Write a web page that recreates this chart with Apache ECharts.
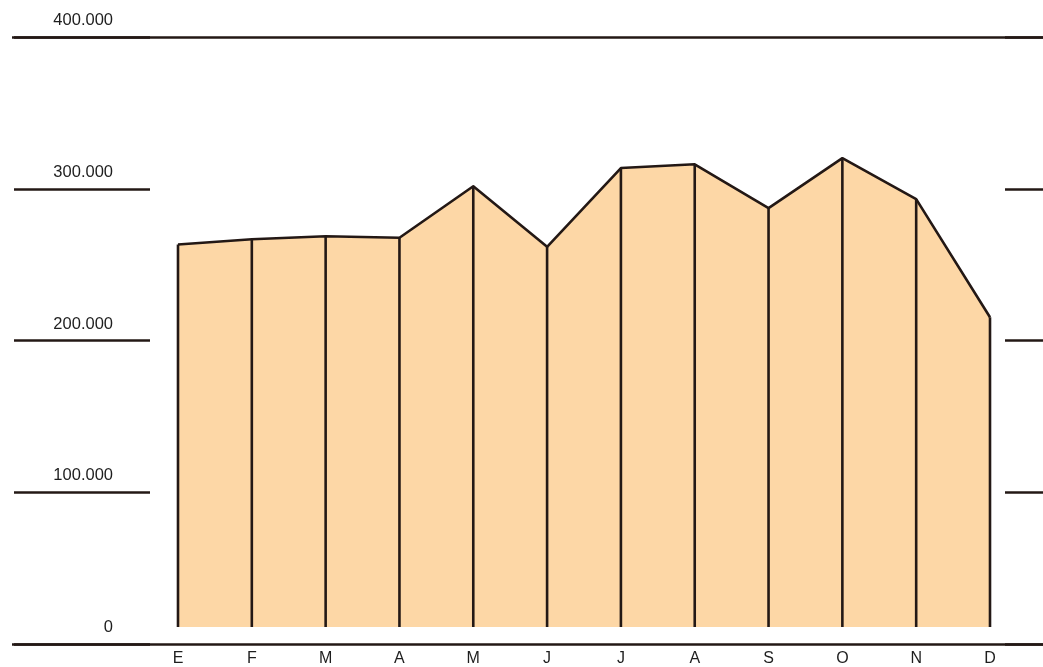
<!DOCTYPE html>
<html>
<head>
<meta charset="utf-8">
<script src="https://cdn.jsdelivr.net/npm/echarts@6/dist/echarts.min.js"></script>
<style>
html,body{margin:0;padding:0;background:#fff;}
#chart{width:1043px;height:667px;}
</style>
</head>
<body>
<div id="chart"></div>
<script>
// Data
const months = ['E','F','M','A','M','J','J','A','S','O','N','D'];
const values = [263000, 266500, 268500, 267500, 301500, 261500, 313500, 316000, 287000, 320000, 293000, 215000];
const yTickLabels = ['0','100.000','200.000','300.000','400.000'];
const fillBase = 10500; // where the drawn area stops above the baseline

const ink = '#231815';
const chart = echarts.init(document.getElementById('chart'));

const yCommon = {
  type: 'value', min: 0, max: 400000, interval: 100000,
  axisLine: {show: false}, axisTick: {show: false}
};
const xHidden = {type: 'category', data: months, show: false, boundaryGap: false};

chart.setOption({
  backgroundColor: '#ffffff',
  animation: false,
  grid: [
    {left: 12, right: 0, top: 37, bottom: 23},      // full-width 0 and 400 lines
    {left: 14, width: 136, top: 37, bottom: 23},    // left short lines
    {left: 1005, right: 0, top: 37, bottom: 23},    // right short lines
    {left: 113, width: 1, top: 37, bottom: 23},     // tick labels
    {left: 178, right: 53, top: 37, bottom: 23}     // plot
  ],
  xAxis: [
    Object.assign({gridIndex: 0}, xHidden),
    Object.assign({gridIndex: 1}, xHidden),
    Object.assign({gridIndex: 2}, xHidden),
    Object.assign({gridIndex: 3}, xHidden),
    {
      gridIndex: 4, type: 'category', data: months, boundaryGap: false,
      axisLine: {show: false}, axisTick: {show: false},
      axisLabel: {color: '#1e1e1e', fontFamily: 'Liberation Sans', fontSize: 16, margin: 8}
    }
  ],
  yAxis: [
    Object.assign({gridIndex: 0}, yCommon, {interval: 400000, axisLabel: {show: false},
      splitLine: {show: true, lineStyle: {color: ink, width: 2.6}}}),
    Object.assign({gridIndex: 1}, yCommon, {axisLabel: {show: false},
      splitLine: {show: true, lineStyle: {color: ink, width: 2.6}}}),
    Object.assign({gridIndex: 2}, yCommon, {axisLabel: {show: false},
      splitLine: {show: true, lineStyle: {color: ink, width: 2.6}}}),
    Object.assign({gridIndex: 3}, yCommon, {
      splitLine: {show: false},
      axisLabel: {
        margin: 0, color: '#1e1e1e', fontFamily: 'Liberation Sans', fontSize: 16.5,
        align: 'right', verticalAlign: 'bottom', padding: [0, 0, 8, 0],
        formatter: v => yTickLabels[Math.round(v / 100000)]
      }
    }),
    Object.assign({gridIndex: 4}, yCommon, {axisLabel: {show: false}, splitLine: {show: false}})
  ],
  series: [
    {
      type: 'line', xAxisIndex: 4, yAxisIndex: 4, data: values,
      symbol: 'none', z: 2,
      lineStyle: {color: ink, width: 2.6, join: 'round'},
      areaStyle: {color: '#fdd7a6', opacity: 1, origin: fillBase}
    },
    {
      type: 'custom', xAxisIndex: 4, yAxisIndex: 4, z: 3,
      data: values.map((v, i) => [i, v]),
      renderItem: function (params, api) {
        const top = api.coord([api.value(0), api.value(1)]);
        const bot = api.coord([api.value(0), fillBase]);
        return {
          type: 'line',
          shape: {x1: top[0], y1: top[1], x2: bot[0], y2: bot[1]},
          style: {stroke: ink, lineWidth: 2.6}
        };
      }
    }
  ]
});
</script>
</body>
</html>
